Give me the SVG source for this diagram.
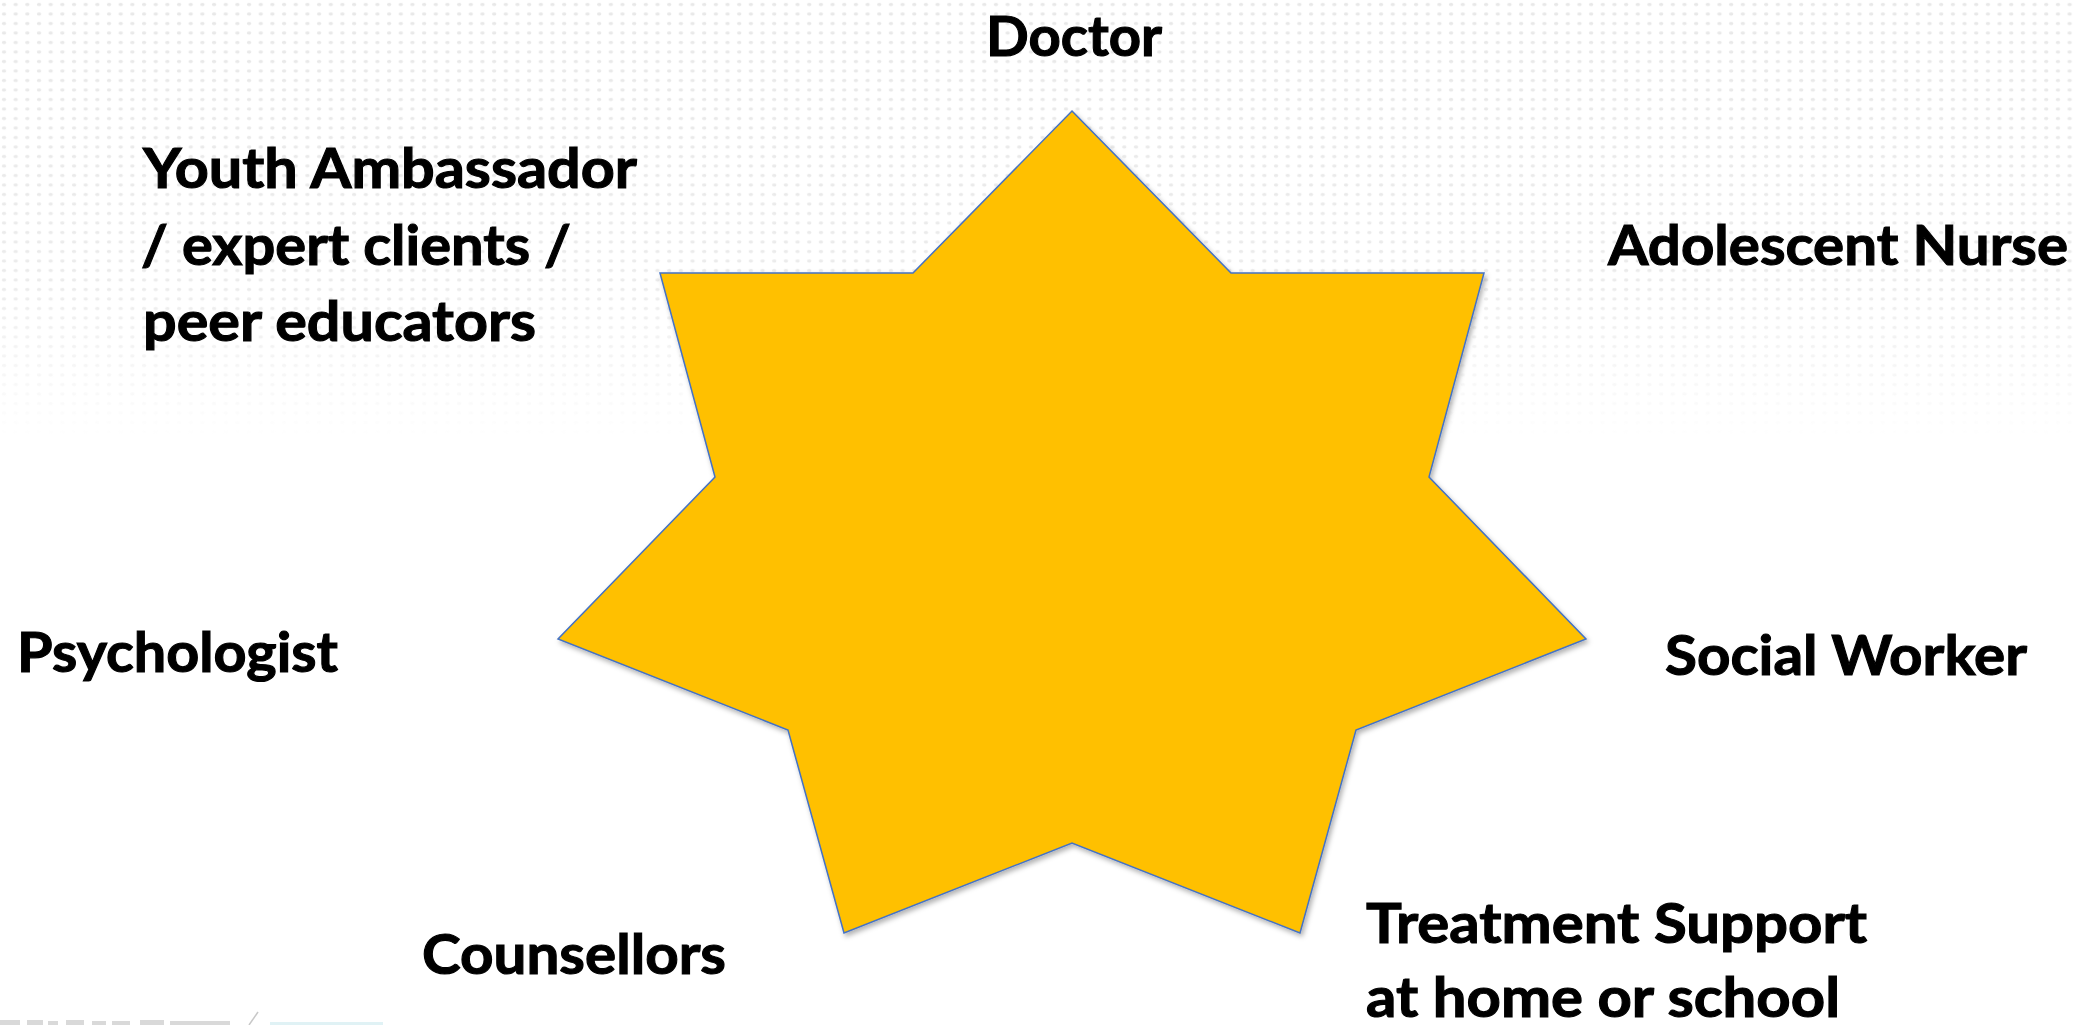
<svg xmlns="http://www.w3.org/2000/svg" width="2078" height="1025" viewBox="0 0 2078 1025">
  <style>
    .lbl { font-family: Lato, "Open Sans", "Liberation Sans", sans-serif; font-weight: 700; font-size: 56px; fill: #000000; stroke: #000000; stroke-width: 1.1px; }
    .star { fill: #FFC000; stroke: #4472C4; stroke-width: 1.5; stroke-linejoin: miter; }
    .logo { fill: #d9d9d9; }
  </style>
  <defs>
    <pattern id="dots" x="0" y="0" width="11.67" height="9.5" patternUnits="userSpaceOnUse">
      <ellipse cx="4" cy="4.5" rx="2.2" ry="1.6" fill="#e8e8e8"/>
    </pattern>
    <linearGradient id="fade" x1="0" y1="0" x2="0" y2="1">
      <stop offset="0" stop-color="#fff" stop-opacity="1"/>
      <stop offset="0.65" stop-color="#fff" stop-opacity="0.85"/>
      <stop offset="1" stop-color="#fff" stop-opacity="0"/>
    </linearGradient>
    <mask id="fadeMask" maskUnits="userSpaceOnUse" x="0" y="0" width="2078" height="440">
      <rect x="0" y="0" width="2078" height="440" fill="url(#fade)"/>
    </mask>
    <filter id="shadow" x="-10%" y="-10%" width="120%" height="120%">
      <feDropShadow dx="2" dy="3" stdDeviation="2.5" flood-color="#000" flood-opacity="0.3"/>
    </filter>
  </defs>

  <rect x="0" y="0" width="2078" height="1025" fill="#ffffff"/>
  <g id="background-texture">
    <rect x="0" y="0" width="2078" height="440" fill="url(#dots)" mask="url(#fadeMask)"/>
  </g>

  <g id="logo-fragment">
    <rect class="logo" x="0" y="1020" width="20" height="5"/>
    <rect class="logo" x="27" y="1020" width="16" height="5"/>
    <rect class="logo" x="48" y="1021" width="10" height="4"/>
    <rect class="logo" x="66" y="1020" width="18" height="5"/>
    <rect class="logo" x="92" y="1021" width="14" height="4"/>
    <rect class="logo" x="112" y="1021" width="18" height="4"/>
    <rect class="logo" x="140" y="1020" width="24" height="5"/>
    <rect class="logo" x="170" y="1021" width="60" height="4"/>
    <path d="M258 1012 L249 1025" stroke="#c8c8c8" stroke-width="1.5" fill="none"/>
    <rect x="270" y="1022" width="113" height="3" fill="#e0f2f5"/>
  </g>

  <g id="connectors"></g>

  <g id="star">
    <polygon class="star" filter="url(#shadow)" points="1072,111 1231,273 1484,273 1429,477 1586,639 1356,730 1300,933 1072,843 844,933 788,730 558,639 715,477 660,273 913,273"/>
  </g>

  <g id="doctor">
    <text class="lbl" x="986" y="56" textLength="176" lengthAdjust="spacingAndGlyphs">Doctor</text>
  </g>
  <g id="youth-ambassador">
    <text class="lbl" x="143" y="188" textLength="494" lengthAdjust="spacingAndGlyphs">Youth Ambassador</text>
    <text class="lbl" x="141" y="265" textLength="430" lengthAdjust="spacingAndGlyphs">/ expert clients /</text>
    <text class="lbl" x="143" y="341" textLength="393" lengthAdjust="spacingAndGlyphs">peer educators</text>
  </g>
  <g id="adolescent-nurse">
    <text class="lbl" x="1608" y="265" textLength="460" lengthAdjust="spacingAndGlyphs">Adolescent Nurse</text>
  </g>
  <g id="psychologist">
    <text class="lbl" x="17" y="672" textLength="321" lengthAdjust="spacingAndGlyphs">Psychologist</text>
  </g>
  <g id="social-worker">
    <text class="lbl" x="1665" y="675" textLength="362" lengthAdjust="spacingAndGlyphs">Social Worker</text>
  </g>
  <g id="counsellors">
    <text class="lbl" x="422" y="974" textLength="304" lengthAdjust="spacingAndGlyphs">Counsellors</text>
  </g>
  <g id="treatment-support">
    <text class="lbl" x="1366" y="943" textLength="501" lengthAdjust="spacingAndGlyphs">Treatment Support</text>
    <text class="lbl" x="1366" y="1017" textLength="474" lengthAdjust="spacingAndGlyphs">at home or school</text>
  </g>
</svg>
